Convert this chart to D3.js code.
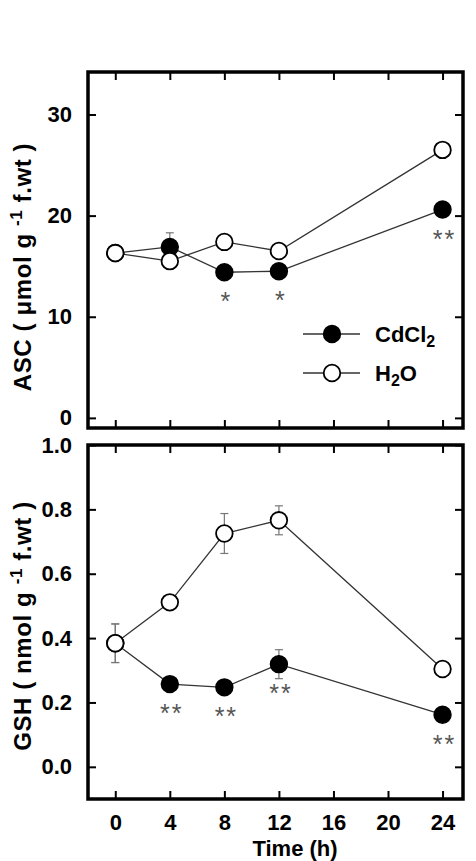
<!DOCTYPE html>
<html>
<head>
<meta charset="utf-8">
<script src="https://cdn.jsdelivr.net/npm/d3@7"></script>
<style>
  body { margin: 0; background: #fff; }
  text { font-family: Arial, "Liberation Sans", sans-serif; }
</style>
</head>
<body>
<svg></svg>
<script>
// Data
const times = [0, 4, 8, 12, 24];
const xTicks = [0, 4, 8, 12, 16, 20, 24];

const ascCd = [16.3, 16.9, 14.4, 14.5, 20.6];
const ascCdErr = [0.4, 1.4, 0.4, 0.4, 0.4];
const ascH2o = [16.3, 15.5, 17.4, 16.5, 26.5];
const ascH2oErr = [0.4, 0.4, 0.4, 0.4, 0.4];
const ascStars = ["", "", "*", "*", "**"];
const ascTicks = [0, 10, 20, 30];

const gshCd = [0.384, 0.257, 0.247, 0.319, 0.162];
const gshCdErr = [0.06, 0.01, 0.01, 0.045, 0.01];
const gshH2o = [0.384, 0.511, 0.725, 0.766, 0.304];
const gshH2oErr = [0.06, 0.01, 0.062, 0.045, 0.01];
const gshStars = ["", "**", "**", "**", "**"];
const gshTicks = [0.0, 0.2, 0.4, 0.6, 0.8, 1.0];

const width = 476, height = 861;
const svg = d3.select("svg")
    .attr("width", width)
    .attr("height", height);

const x = d3.scaleLinear().domain([-2, 25.5]).range([88, 463]);

function panel(opts) {
    const y = d3.scaleLinear().domain(opts.domain).range([opts.bottom, opts.top]);
    const g = svg.append("g");
    const tickLen = 8;

    // ticks on all four sides, pointing in
    const addAxis = (axis, tf) => {
        const a = g.append("g").attr("transform", tf).call(axis);
        a.select(".domain").remove();
        a.selectAll(".tick line").attr("stroke", "#000").attr("stroke-width", 2);
        a.selectAll(".tick text")
            .attr("font-size", 22).attr("font-weight", "bold").attr("fill", "#000");
        return a;
    };
    addAxis(d3.axisLeft(y).tickValues(opts.ticks).tickSize(-tickLen).tickPadding(16).tickFormat(opts.fmt),
        `translate(${x.range()[0]},0)`);
    addAxis(d3.axisRight(y).tickValues(opts.ticks).tickSize(-tickLen).tickFormat(""),
        `translate(${x.range()[1]},0)`);
    addAxis(d3.axisTop(x).tickValues(xTicks).tickSize(-tickLen).tickFormat(""),
        `translate(0,${opts.top})`);
    addAxis(d3.axisBottom(x).tickValues(xTicks).tickSize(-tickLen)
        .tickPadding(opts.showX ? 15 : 0).tickFormat(opts.showX ? d3.format("d") : ""),
        `translate(0,${opts.bottom})`);

    // frame
    g.append("rect")
        .attr("x", x.range()[0]).attr("y", opts.top)
        .attr("width", x.range()[1] - x.range()[0])
        .attr("height", opts.bottom - opts.top)
        .attr("fill", "none").attr("stroke", "#000").attr("stroke-width", 3.5);

    const line = d3.line().x((d, i) => x(times[i])).y(d => y(d));

    const series = [
        { vals: opts.cd, err: opts.cdErr, filled: true },
        { vals: opts.h2o, err: opts.h2oErr, filled: false }
    ];

    series.forEach(s => {
        // error bars
        const eb = g.append("g").attr("stroke", "#777").attr("stroke-width", 1.2);
        s.vals.forEach((v, i) => {
            const cx = x(times[i]);
            eb.append("line").attr("x1", cx).attr("x2", cx)
                .attr("y1", y(v - s.err[i])).attr("y2", y(v + s.err[i]));
            [v - s.err[i], v + s.err[i]].forEach(e => {
                eb.append("line").attr("x1", cx - 4).attr("x2", cx + 4)
                    .attr("y1", y(e)).attr("y2", y(e));
            });
        });
        g.append("path").datum(s.vals)
            .attr("d", line)
            .attr("fill", "none").attr("stroke", "#333").attr("stroke-width", 1.3);
    });

    series.forEach(s => {
        g.selectAll(null).data(s.vals).enter().append("circle")
            .attr("cx", (d, i) => x(times[i]))
            .attr("cy", d => y(d))
            .attr("r", 8.3)
            .attr("fill", s.filled ? "#000" : "#fff")
            .attr("stroke", "#000").attr("stroke-width", 1.8);
    });

    // significance marks
    g.selectAll(null).data(opts.stars).enter().append("text")
        .attr("x", (d, i) => x(times[i]) + 2)
        .attr("y", (d, i) => y(opts.cd[i]) + 38)
        .attr("text-anchor", "middle")
        .attr("font-size", 25).attr("letter-spacing", 2)
        .attr("fill", "#555")
        .text(d => d);

    // y label
    const lab = svg.append("text")
        .attr("transform", `translate(31,${opts.labelY}) rotate(-90)`)
        .attr("text-anchor", "middle")
        .attr("font-size", 24).attr("font-weight", "bold")
        .attr("letter-spacing", 0.6);
    lab.append("tspan").text(opts.label[0]);
    lab.append("tspan").attr("font-size", 17).attr("dy", -9).text("-1");
    lab.append("tspan").attr("dy", 9).text(opts.label[1]);

    return y;
}

panel({
    domain: [-1, 34.2], top: 72, bottom: 428,
    ticks: ascTicks, fmt: d3.format("d"), showX: false,
    cd: ascCd, cdErr: ascCdErr, h2o: ascH2o, h2oErr: ascH2oErr,
    stars: ascStars, label: ["ASC ( \u03bcmol g ", " f.wt )"], labelY: 267
});

panel({
    domain: [-0.1, 1.0], top: 445, bottom: 799,
    ticks: gshTicks, fmt: d3.format(".1f"), showX: true,
    cd: gshCd, cdErr: gshCdErr, h2o: gshH2o, h2oErr: gshH2oErr,
    stars: gshStars, label: ["GSH ( nmol g ", " f.wt )"], labelY: 626
});

// x title
svg.append("text")
    .attr("x", 295).attr("y", 856)
    .attr("text-anchor", "middle")
    .attr("font-size", 22).attr("font-weight", "bold")
    .text("Time (h)");

// legend
const legend = [
    { name: "CdCl", sub: "2", filled: true, y: 334 },
    { name: "H", sub: "2", after: "O", filled: false, y: 373 }
];
legend.forEach(l => {
    svg.append("line").attr("x1", 303).attr("x2", 360)
        .attr("y1", l.y).attr("y2", l.y)
        .attr("stroke", "#333").attr("stroke-width", 1.3);
    svg.append("circle").attr("cx", 332).attr("cy", l.y).attr("r", 8.3)
        .attr("fill", l.filled ? "#000" : "#fff")
        .attr("stroke", "#000").attr("stroke-width", 1.8);
    const t = svg.append("text").attr("x", 375).attr("y", l.y + 8)
        .attr("font-size", 22).attr("font-weight", "bold");
    t.append("tspan").text(l.name);
    t.append("tspan").attr("font-size", 16).attr("dy", 5).text(l.sub);
    if (l.after) t.append("tspan").attr("dy", -5).text(l.after);
});
</script>
</body>
</html>
